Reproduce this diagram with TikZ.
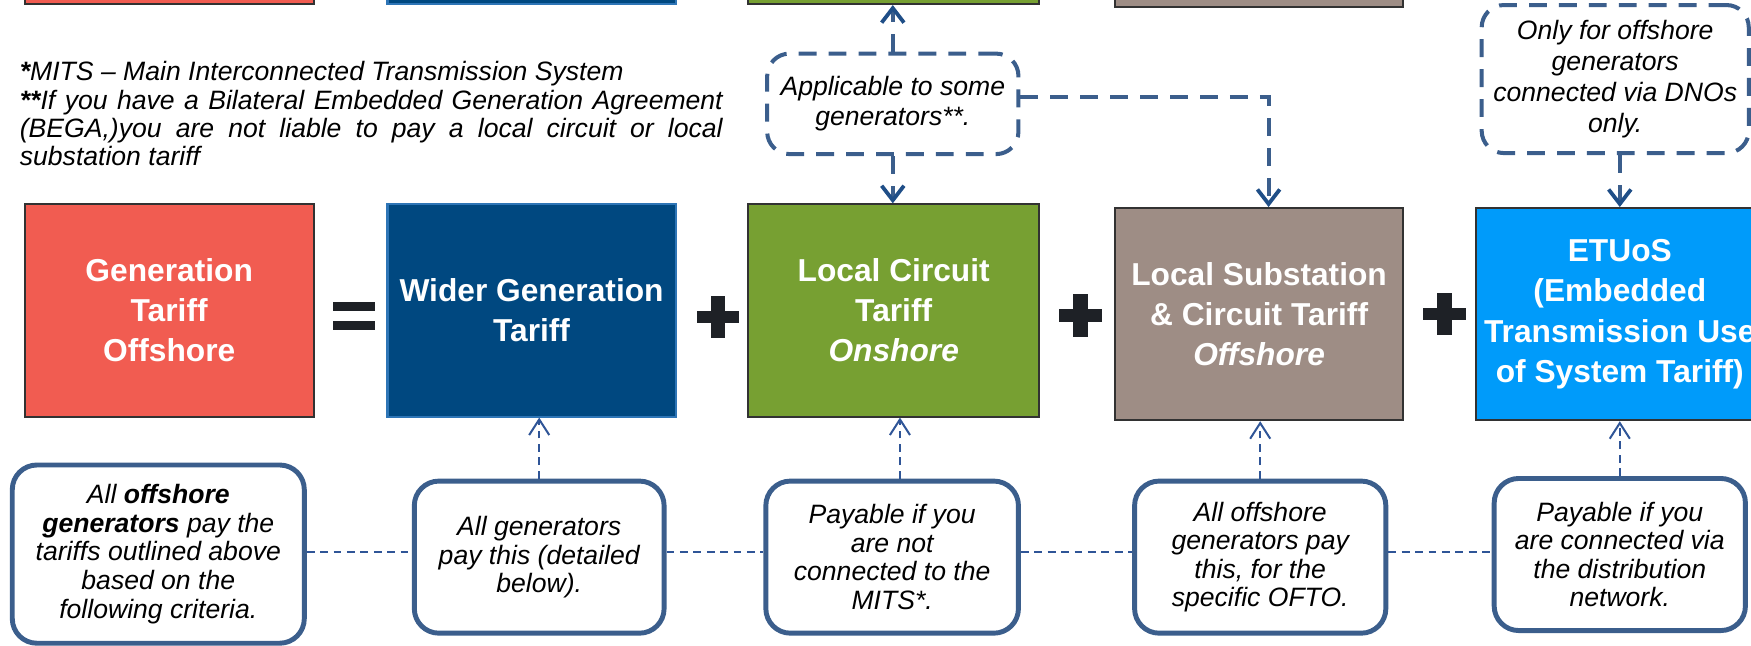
\documentclass[tikz,border=0pt]{standalone}
\usepackage{fontspec}
\setmainfont{Liberation Sans}
\usetikzlibrary{arrows.meta,calc}
\definecolor{cRed}{RGB}{241,92,81}
\definecolor{cBlue}{RGB}{0,72,128}
\definecolor{cBlueEdge}{RGB}{46,117,182}
\definecolor{cGreen}{RGB}{119,160,50}
\definecolor{cBrown}{RGB}{158,141,133}
\definecolor{cLight}{RGB}{0,155,250}
\definecolor{cEdge}{RGB}{50,50,50}
\definecolor{cCall}{RGB}{59,94,140}
\definecolor{cArrow}{RGB}{31,78,135}
\definecolor{cThin}{RGB}{47,85,151}
\definecolor{cSign}{RGB}{30,33,38}
\begin{document}
\begin{tikzpicture}[x=0.5pt,y=-0.5pt,
  tbox/.style={draw=cEdge, line width=0.9pt, minimum height=95pt, inner sep=0pt, align=center, text=white, font=\bfseries\fontsize{14.2}{18}\selectfont},
  callout/.style={draw=cCall, fill=white, line width=1.8pt, dash pattern=on 8pt off 5.4pt, rounded corners=10pt, inner sep=0pt, align=center, font=\itshape\fontsize{11.9}{13.3}\selectfont},
  note/.style={draw=cCall, fill=white, line width=2.2pt, rounded corners=11pt, inner sep=0pt, align=center, minimum height=68.1pt, font=\itshape\fontsize{11.9}{12.8}\selectfont},
  calllink/.style={draw=cCall, line width=1.8pt, dash pattern=on 8pt off 5.4pt, -{Straight Barb[length=6.5pt,width=10pt,line width=1.7pt,color=cArrow]}},
  thinlink/.style={draw=cThin, line width=0.9pt, dash pattern=on 3.5pt off 2.5pt},
  thinarrow/.style={thinlink, -{Straight Barb[length=7pt,width=9pt,line width=0.9pt]}},
  fn/.style={anchor=base west, inner sep=0pt, font=\itshape\fontsize{11.9}{12.7}\selectfont},
  sign/.style={fill=cSign},
]
\useasboundingbox (0,0) rectangle (1568,578);
\clip (0,0) rectangle (1568,578);

% top row (cut off)
\node[tbox, fill=cRed, minimum width=129.5pt] (gentop) at (151.5,-91.4) {};
\node[tbox, fill=cBlue, draw=cBlueEdge, minimum width=129pt] (widertop) at (476,-91.4) {};
\node[tbox, fill=cGreen, minimum width=130.5pt] (lctop) at (800.3,-91.4) {};
\node[tbox, fill=cBrown, minimum width=129pt] (lstop) at (1127.5,-88.4) {};

% main row
\node[tbox, fill=cRed, minimum width=129.5pt] (gen) at (151.5,278) {Generation\\Tariff\\Offshore};
\node[tbox, fill=cBlue, draw=cBlueEdge, minimum width=129pt] (wider) at (476,278) {Wider Generation\\Tariff};
\node[tbox, fill=cGreen, minimum width=130.5pt] (lc) at (800.3,278) {Local Circuit\\Tariff\\\textit{Onshore}};
\node[tbox, fill=cBrown, minimum width=129pt] (ls) at (1127.5,281.3) {Local Substation\\\& Circuit Tariff\\\textit{Offshore}};
\node[tbox, fill=cLight, minimum width=129pt] (et) at (1450.5,281.3) {ETUoS\\(Embedded\\Transmission Use\\of System Tariff)};

% equals and plus signs
\fill[sign] (298,270) rectangle (336,278.5);
\fill[sign] (298,287) rectangle (336,295.5);
\foreach \cx/\cy in {643/284, 967.5/282.5, 1293.5/281}{
  \fill[sign] (\cx-19,\cy-5.5) rectangle (\cx+19,\cy+5.5);
  \fill[sign] (\cx-6.5,\cy-19) rectangle (\cx+6.5,\cy+19);
}

% footnotes
\node[fn] (fn1) at (17.4,72.5) {\textbf{*}MITS – Main Interconnected Transmission System};
\node[fn] (fn2) at (17.4,97.8) {\makebox[314.7pt][s]{\textbf{**}If you have a Bilateral Embedded Generation Agreement}};
\node[fn] (fn3) at (17.4,123.2) {\makebox[314.7pt][s]{(BEGA,)you are not liable to pay a local circuit or local}};
\node[fn] (fn4) at (17.4,148.5) {substation tariff};

% dashed callouts
\node[callout, minimum width=112.5pt, minimum height=45pt] (A) at (799.5,93) {Applicable to some\\generators**.};
\node[callout, minimum width=119.6pt, minimum height=66.3pt, font=\itshape\fontsize{11.9}{13.85}\selectfont] (B) at (1446.4,70.8) {Only for offshore\\generators\\connected via DNOs\\only.};

\draw[calllink] (A.north) -- (A.north |- lctop.south);
\draw[calllink] (A.south) -- (A.south |- lc.north);
\coordinate (Ae) at ([yshift=3pt]A.east);
\coordinate (lsn) at ([xshift=4.25pt]ls.north);
\draw[calllink] (Ae) -| (lsn);
\draw[calllink] (B.south -| et.north) -- (et.north);

% bottom notes
\node[note, minimum width=130.75pt, minimum height=79.8pt] (n1) at (141.75,496.2) {All \textbf{offshore}\\\textbf{generators} pay the\\tariffs outlined above\\based on the\\following criteria.};
\node[note, minimum width=111.85pt] (n2) at (482.85,498.9) {All generators\\pay this (detailed\\below).};
\node[note, minimum width=113.1pt] (n3) at (798.9,498.9) {Payable if you\\are not\\connected to the\\MITS*.};
\node[note, minimum width=112.5pt] (n4) at (1128.5,498.9) {All offshore\\generators pay\\this, for the\\specific OFTO.};
\node[note, minimum width=112.5pt] (n5) at (1450.5,496.55) {Payable if you\\are connected via\\the distribution\\network.};

\coordinate (h2w) at ([yshift=2.5pt]n2.west);
\coordinate (h2e) at ([yshift=2.5pt]n2.east);
\coordinate (h3w) at ([yshift=2.5pt]n3.west);
\coordinate (h3e) at ([yshift=2.5pt]n3.east);
\coordinate (h4w) at ([yshift=2.5pt]n4.west);
\coordinate (h4e) at ([yshift=2.5pt]n4.east);
\draw[thinlink] (h2w -| n1.east) -- (h2w);
\draw[thinlink] (h2e) -- (h3w);
\draw[thinlink] (h3e) -- (h4w);
\draw[thinlink] (h4e) -- (h4e -| n5.west);

\coordinate (n3top) at ([xshift=3.5pt]n3.north);
\draw[thinarrow] (n2.north) -- (n2.north |- wider.south);
\draw[thinarrow] (n3top) -- (n3top |- lc.south);
\draw[thinarrow] (n4.north) -- (n4.north |- ls.south);
\draw[thinarrow] (n5.north) -- (n5.north |- et.south);
\end{tikzpicture}
\end{document}
